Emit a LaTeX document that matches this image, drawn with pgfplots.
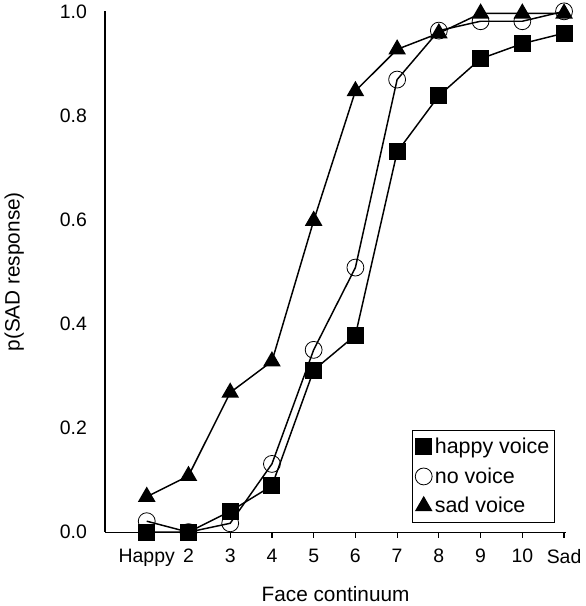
\documentclass[border=0pt]{standalone}
\usepackage{fontspec}
\setmainfont{Liberation Sans}
\usepackage{pgfplots}
\pgfplotsset{compat=1.18}

\begin{document}
\begin{tikzpicture}
\begin{axis}[
    scale only axis,
    width=344pt, height=388.5pt,
    xmin=0, xmax=11.05,
    ymin=0, ymax=1.0,
    clip=false,
    axis x line*=bottom,
    axis y line*=left,
    axis line style={line width=0.9pt},
    xtick={1,2,3,4,5,6,7,8,9,10,11},
    xticklabels={Happy,2,3,4,5,6,7,8,9,10,Sad},
    x tick style={line width=0.9pt, black},
    tick align=outside,
    major tick length=4pt,
    ytick={0,0.2,0.4,0.6,0.8,1.0},
    y tick style={draw=none},
    yticklabel style={/pgf/number format/fixed, /pgf/number format/fixed zerofill, /pgf/number format/precision=1},
    /pgf/number format/assume math mode=true,
    ticklabel style={font=\fontsize{14.5}{16}\selectfont},
    xticklabel style={yshift=-5pt},
    yticklabel style={xshift=-6pt},
    xlabel={Face continuum},
    ylabel={p(SAD response)},
    label style={font=\fontsize{15.5}{18}\selectfont},
    xlabel style={yshift=-8pt},
    ylabel style={yshift=20pt},
    legend style={at={(rel axis cs:0.976,0.017)}, anchor=south east,
        font=\fontsize{16}{18}\selectfont, draw=black, line width=0.6pt,
        row sep=5pt, inner xsep=2pt, inner ysep=4pt},
    legend cell align=left,
    legend image code/.code={\path plot coordinates {(0.2cm,0cm)};},
]
\addplot[black, line width=1.1pt, mark=square*, mark size=5.8pt, mark options={solid, fill=black}]
    coordinates {(1,0.0)(2,0.0)(3,0.04)(4,0.089)(5,0.311)(6,0.378)(7,0.73)(8,0.838)(9,0.909)(10,0.938)(11,0.958)};
\addlegendentry{happy voice}
\addplot[black, line width=1.1pt, mark=o, mark size=6.3pt, mark options={solid, line width=0.6pt}]
    coordinates {(1,0.021)(2,0.0)(3,0.017)(4,0.131)(5,0.35)(6,0.508)(7,0.869)(8,0.963)(9,0.981)(10,0.981)(11,1.0)};
\addlegendentry{no voice}
\addplot[black, line width=1.1pt, mark=triangle*, mark size=6.5pt, mark options={solid, fill=black}]
    coordinates {(1,0.068)(2,0.108)(3,0.268)(4,0.328)(5,0.598)(6,0.847)(7,0.927)(8,0.958)(9,0.996)(10,0.996)(11,0.996)};
\addlegendentry{sad voice}
\end{axis}
\end{tikzpicture}
\end{document}
